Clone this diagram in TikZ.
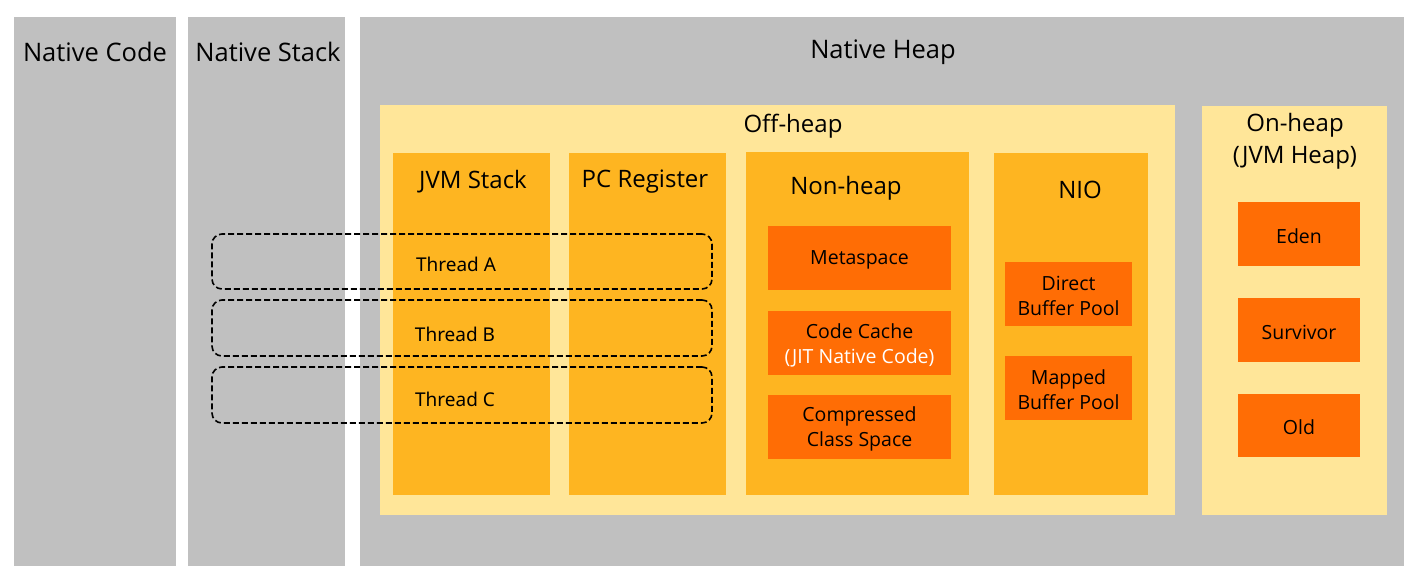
\documentclass[tikz,border=0pt]{standalone}
\usepackage{fontspec}
\setmainfont{Open Sans}
\newfontfamily\thr{Noto Sans}
\definecolor{cgray}{HTML}{C0C0C0}
\definecolor{clight}{HTML}{FFE699}
\definecolor{cmid}{HTML}{FEB521}
\definecolor{cdeep}{HTML}{FF6D05}
\tikzset{
  area/.style={fill=cgray, draw=none, inner sep=0pt},
  pale/.style={fill=clight, draw=none, inner sep=0pt},
  col/.style={fill=cmid, draw=none, inner sep=0pt},
  blk/.style={fill=cdeep, draw=none, inner sep=0pt},
  blab/.style={inner sep=0pt, align=center, font=\fontsize{19.5}{25}\selectfont},
  big/.style={font=\fontsize{25.5}{30}\selectfont, inner sep=0pt, align=center},
  mid/.style={font=\fontsize{24}{32}\selectfont, inner sep=0pt, align=center},
  thread/.style={draw=black, line width=1.6pt, dash pattern=on 6pt off 3pt, rounded corners=10pt, inner sep=0pt},
  tlab/.style={font=\thr\fontsize{19}{22}\selectfont, inner sep=0pt},
}
\begin{document}
\begin{tikzpicture}[x=1pt, y=-1pt]
\useasboundingbox (0,0) rectangle (1421,583);
\fill[white] (0,0) rectangle (1421,583);
% gray regions
\node[area, minimum width=162pt, minimum height=549pt] (ncode) at (95,291.5) {};
\node[area, minimum width=157pt, minimum height=549pt] (nstack) at (266.5,291.5) {};
\node[area, minimum width=1044pt, minimum height=549pt] (nheap) at (882,291.5) {};
% off-heap / on-heap
\node[pale, minimum width=795pt, minimum height=410pt] (off) at (777.5,310) {};
\node[pale, minimum width=185pt, minimum height=409pt] (on) at (1294.5,310.5) {};
% columns
\node[col, minimum width=157pt, minimum height=342pt] (jvms) at (471.5,324) {};
\node[col, minimum width=157pt, minimum height=342pt] (pcr) at (647.5,324) {};
\node[col, minimum width=223pt, minimum height=343pt] (nonh) at (857.5,323.5) {};
\node[col, minimum width=154pt, minimum height=342pt] (nio) at (1071,324) {};
% deep blocks
\node[blk, minimum width=183pt, minimum height=64pt] (meta) at (859.5,258) {};
\node[blk, minimum width=183pt, minimum height=64pt] (ccache) at (859.5,343) {};
\node[blk, minimum width=183pt, minimum height=64pt] (ccs) at (859.5,427) {};
\node[blk, minimum width=127pt, minimum height=64pt] (dbp) at (1068.5,294) {};
\node[blk, minimum width=127pt, minimum height=64pt] (mbp) at (1068.5,388) {};
\node[blk, minimum width=122pt, minimum height=64pt] (eden) at (1299,234) {};
\node[blk, minimum width=122pt, minimum height=64pt] (surv) at (1299,330) {};
\node[blk, minimum width=122pt, minimum height=63pt] (old) at (1299,425.5) {};
\node[blab] (lmeta) at (859.5,260) {Metaspace};
\node[blab] (lccache) at (859.5,345) {Code Cache\\\textcolor{white}{(JIT Native Code)}};
\node[blab] (lccs) at (859.5,429) {Compressed\\Class Space};
\node[blab] (ldbp) at (1068.5,296) {Direct\\Buffer Pool};
\node[blab] (lmbp) at (1068.5,390) {Mapped\\Buffer Pool};
\node[blab] (leden) at (1299,236) {Eden};
\node[blab] (lsurv) at (1299,332) {Survivor};
\node[blab] (lold) at (1299,427.5) {Old};
% thread boxes
\node[thread, minimum width=500pt, minimum height=55pt] (ta) at (462,261.5) {};
\node[thread, minimum width=500pt, minimum height=56pt] (tb) at (462,328) {};
\node[thread, minimum width=500pt, minimum height=56pt] (tc) at (462,395) {};
\node[tlab] (tal) at (456,264) {Thread A};
\node[tlab] (tbl) at (455,334) {Thread B};
\node[tlab] (tcl) at (455,399) {Thread C};
% titles
\node[big] (lncode) at (95,52) {Native Code};
\node[big] (lnstack) at (268,52) {Native Stack};
\node[big] (lnheap) at (883,52) {Native Heap};
\node[mid] (loff) at (793,126) {Off-heap};
\node[mid] (ljvms) at (473,182) {JVM Stack};
\node[mid] (lpcr) at (645,182) {PC Register};
\node[mid] (lnonh) at (846,188) {Non-heap};
\node[mid] (lnio) at (1080,190) {NIO};
\node[mid] (lon) at (1295,141) {On-heap\\(JVM Heap)};
\end{tikzpicture}
\end{document}
